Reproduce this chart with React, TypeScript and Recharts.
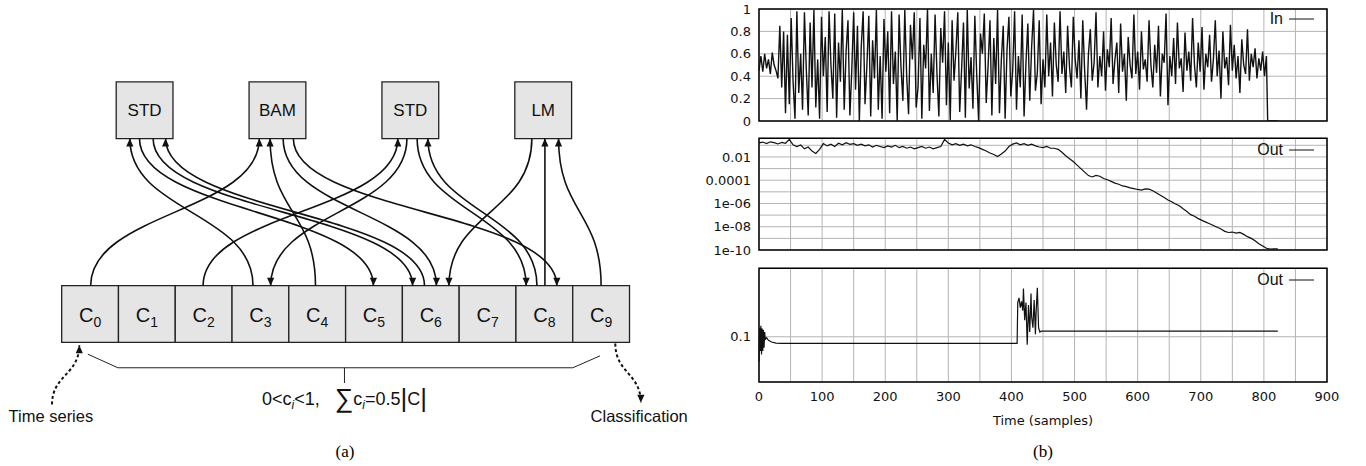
import React from 'react';
import {
  ComposedChart, LineChart, Line, XAxis, YAxis, CartesianGrid,
  ReferenceArea, ReferenceDot, Legend,
} from 'recharts';

// ---------- (a) cell diagram, in cell units ----------
const CELL_SUBS = ['0', '1', '2', '3', '4', '5', '6', '7', '8', '9'];
const BOX_NAMES = ['STD', 'BAM', 'STD', 'LM'];
const BOX_CENTERS = [1.46, 3.8, 6.14, 8.48];
const BOX_Y = [3.6, 4.6];
const CELL_Y = [0, 1];

// each arrow: start x, end x, whether it points up (cell -> box)
const ARROW_FROM = [0.51, 3.37, 4.47, 2.49, 6.08, 1.37, 1.61, 6.39, 3.9, 8.28, 6.26, 8.37, 8.51, 4.08, 9.5];
const ARROW_TO = [3.48, 1.2, 3.67, 5.92, 3.68, 5.49, 6.18, 1.83, 6.6, 6.82, 8.18, 6.45, 8.51, 8.72, 8.75];
const ARROW_UP = [true, true, true, true, false, false, false, true, false, false, false, true, true, false, true];

const INPUT_X = [-0.17, 0.31];
const INPUT_Y = [-1.1, -0.05];
const OUTPUT_X = [9.75, 10.2];
const OUTPUT_Y = [-0.02, -1.07];
const BRACE_X = [0.46, 0.99, 9.0, 9.48];
const BRACE_Y = [-0.21, -0.45, -0.45, -0.24];
const STEM_X = [4.98, 4.98];
const STEM_Y = [-0.45, -0.72];

const NOTE_TEXT = ['Time series', 'Classification'];
const NOTE_X = [-0.19, 10.17];
const NOTE_Y = [-1.3, -1.3];
const FORMULA_POS = [4.98, -1.0];

// ---------- (b) time series ----------
const X_TICKS = [0, 50, 100, 150, 200, 250, 300, 350, 400, 450, 500, 550, 600, 650, 700, 750, 800, 850, 900];
const IN_STEP = 3;
const IN_VALUES = [
  0.45, 0.58, 0.44, 0.6, 0.47, 0.55, 0.42, 0.61, 0.5, 0.45, 0.38,
  0.85, 0.3, 0.8, 0.07,
  0.77, 0.15, 0.92, 0.35, 0.02, 0.98,
  0.25, 0.6, 0.1, 0.97, 0.45, 0.05, 0.88, 0.3, 0.99, 0.12,
  0.55, 0.02, 0.93, 0.4, 0.75, 0.08, 0.98, 0.5, 0.2, 0.96,
  0.03, 0.7, 0.35, 1.0, 0.1, 0.62, 0.9, 0.05, 0.45, 0.97,
  0.28, 0.85, 0.0, 0.66, 0.98, 0.15, 0.5, 0.94, 0.04, 0.72,
  0.38, 0.99, 0.1, 0.58, 0.02, 0.91, 0.44, 0.8, 0.07, 0.98,
  0.33, 0.62, 0.0, 0.95, 0.48, 0.18, 0.99, 0.4, 0.06, 0.86,
  0.55, 0.97, 0.12, 0.3, 0.92, 0.02, 0.68, 0.47, 1.0, 0.09,
  0.6, 0.25, 0.95, 0.42, 0.04, 0.83, 0.52, 0.98, 0.14, 0.7,
  0.01, 0.9, 0.36, 0.63, 0.97, 0.08, 0.46, 0.88, 0.03, 0.99,
  0.29, 0.57, 0.11, 0.94, 0.41, 0.0, 0.78, 0.6, 0.96, 0.16,
  0.49, 0.9, 0.05, 0.74, 0.33, 0.99, 0.07, 0.55, 0.85, 0.02,
  0.64, 0.93, 0.22, 0.45, 0.98, 0.1, 0.58, 0.3, 0.95, 0.04,
  0.52, 0.87, 0.18, 0.66, 0.99, 0.27, 0.43, 0.9, 0.15,
  0.55, 0.3, 0.95, 0.4, 0.7, 0.22, 0.88, 0.5, 0.35, 0.98,
  0.42, 0.62, 0.25, 0.85, 0.48, 0.3, 0.93, 0.55, 0.38, 0.72,
  0.2, 0.9, 0.45, 0.1, 0.6, 0.82, 0.36, 0.52, 0.97, 0.3,
  0.58, 0.4, 0.8, 0.27, 0.64, 0.48, 0.92, 0.33, 0.55, 0.7,
  0.25, 0.87, 0.44, 0.6, 0.18, 0.75, 0.5, 0.38, 0.95, 0.42,
  0.62, 0.28, 0.8, 0.46, 0.55, 0.35, 0.9, 0.5, 0.3, 0.68,
  0.43, 0.85, 0.22, 0.6, 0.52, 0.96, 0.14, 0.58, 0.4, 0.74,
  0.33, 0.88, 0.47, 0.56, 0.26, 0.79, 0.45, 0.62, 0.36, 0.92,
  0.5, 0.3, 0.7, 0.44, 0.84, 0.28, 0.6, 0.48, 0.77, 0.35,
  0.55, 0.9, 0.4, 0.63, 0.2, 0.8, 0.47, 0.57, 0.32, 0.86,
  0.45, 0.68, 0.38, 0.58, 0.25, 0.73, 0.5, 0.42, 0.82, 0.36,
  0.6, 0.48, 0.65, 0.38, 0.56, 0.45, 0.62, 0.4, 0.58,
];
const IN_TAIL_T = [806, 822];
const IN_TAIL_V = [0, 0];

const LOG_STEP = 6;
const LOG_VALUES = [
  1.6e-1, 1.9e-1, 1.4e-1, 2.0e-1, 1.7e-1, 1.3e-1, 1.8e-1, 1.5e-1,
  3.2e-1,
  1.1e-1, 7.9e-2, 1.05e-1, 5.0e-2, 7.1e-2, 3.2e-2, 2.0e-2, 4.5e-2,
  1.4e-1, 8.9e-2, 1.26e-1, 7.9e-2, 1.5e-1, 1.1e-1, 1.66e-1, 1.2e-1,
  1.4e-1, 1.0e-1, 1.26e-1, 8.9e-2, 1.1e-1, 7.1e-2, 1.0e-1, 7.9e-2,
  6.3e-2, 8.9e-2, 7.1e-2, 1.0e-1, 6.3e-2, 7.9e-2, 5.6e-2, 7.1e-2,
  5.0e-2, 6.3e-2, 7.9e-2, 5.6e-2, 7.1e-2, 5.0e-2, 6.3e-2, 7.9e-2,
  3.2e-1,
  1.6e-1, 1.1e-1, 1.4e-1, 1.0e-1, 1.26e-1, 8.9e-2, 1.1e-1, 7.9e-2,
  6.3e-2, 4.5e-2, 3.2e-2, 2.2e-2, 1.6e-2, 1.1e-2, 1.8e-2, 3.2e-2,
  7.9e-2, 1.26e-1, 1.6e-1, 1.1e-1, 1.4e-1, 1.0e-1, 1.26e-1, 8.9e-2,
  7.1e-2, 6.3e-2, 7.9e-2, 5.6e-2,
  5.6e-2, 4.5e-2, 2.5e-2, 1.26e-2, 7.1e-3, 4.0e-3, 2.0e-3, 1.0e-3, 5.0e-4, 2.5e-4,
  1.9e-4, 2.6e-4, 2.2e-4, 1.4e-4, 1.1e-4, 7.9e-5, 5.6e-5, 4.5e-5, 3.2e-5, 2.8e-5,
  2.2e-5, 1.9e-5, 1.6e-5, 1.4e-5, 1.8e-5, 1.7e-5, 1.26e-5, 7.9e-6, 5.0e-6, 3.2e-6,
  2.0e-6, 1.4e-6, 8.9e-7, 6.3e-7, 3.5e-7, 2.0e-7, 1.1e-7, 7.9e-8, 5.0e-8, 3.5e-8,
  2.5e-8, 1.8e-8, 1.26e-8, 8.9e-9, 6.3e-9, 4.0e-9, 3.2e-9, 3.5e-9, 2.8e-9, 3.2e-9,
  2.2e-9, 1.4e-9, 1.0e-9, 6.3e-10, 3.5e-10, 2.2e-10, 1.4e-10, 1.2e-10, 1.26e-10, 1.26e-10,
];
const LOG_TICKS = [1e-10, 1e-9, 1e-8, 1e-7, 1e-6, 1e-5, 1e-4, 1e-3, 1e-2, 1e-1];
const LOG_TICK_LABELS = ['1e-10', '', '1e-08', '', '1e-06', '', '0.0001', '', '0.01', ''];

const OUT_T = [0, 1, 2, 3, 4, 5, 6, 7, 8, 9, 10, 12, 15, 20, 27, 35, 50, 409, 410, 412, 414, 416, 418, 419, 421, 423, 425, 427, 429, 431, 432, 434, 436, 438, 439, 441, 443, 445, 447, 452, 822];
const OUT_V = [0.06, 0.12, 0.075, 0.125, 0.07, 0.118, 0.075, 0.115, 0.08, 0.11, 0.095, 0.098, 0.093, 0.09, 0.088, 0.0875, 0.0873, 0.0873, 0.2, 0.22, 0.18, 0.205, 0.17, 0.265, 0.14, 0.2, 0.085, 0.19, 0.11, 0.24, 0.15, 0.12, 0.21, 0.105, 0.16, 0.27, 0.12, 0.11, 0.112, 0.112, 0.112];

const inData = [
  ...IN_VALUES.map((v, i) => ({ t: i * IN_STEP, v })),
  ...IN_TAIL_T.map((t, i) => ({ t, v: IN_TAIL_V[i] })),
];
const logData = LOG_VALUES.map((v, i) => ({ t: i * LOG_STEP, v }));
const outData = OUT_T.map((t, i) => ({ t, v: OUT_V[i] }));

const SANS = '"Liberation Sans", Arial, sans-serif';
const PLOT_FONT = '"DejaVu Sans", sans-serif';
const INK = '#111';

function ArrowHead(props: any) {
  const { cx, cy, payload } = props;
  if (!payload || !payload.head || cx == null) return null;
  const s = payload.head === 'up' ? 1 : -1;
  return <polygon points={`${cx},${cy} ${cx - 3.6},${cy + s * 8} ${cx + 3.6},${cy + s * 8}`} fill={INK} />;
}

const cellLabel = (i: number) => (props: any) => {
  const { x, y, width, height } = props.viewBox;
  return (
    <text x={x + width / 2} y={y + height / 2 + 8} textAnchor="middle" fontFamily={SANS} fontSize={20} fill={INK}>
      C<tspan dy={5} fontSize={14}>{CELL_SUBS[i]}</tspan>
    </text>
  );
};

const boxLabel = (name: string) => (props: any) => {
  const { x, y, width, height } = props.viewBox;
  return (
    <text x={x + width / 2} y={y + height / 2 + 6} textAnchor="middle" fontFamily={SANS} fontSize={17} fill={INK}>
      {name}
    </text>
  );
};

const noteLabel = (txt: string) => (props: any) => {
  const { x, y, width, height } = props.viewBox;
  return (
    <text x={x + width / 2} y={y + height / 2 + 6} textAnchor="middle" fontFamily={SANS} fontSize={16.5} fill={INK}>
      {txt}
    </text>
  );
};

const formulaLabel = (props: any) => {
  const { x, y, width, height } = props.viewBox;
  return (
    <text x={x + width / 2} y={y + height / 2 + 6} textAnchor="middle" fontFamily={SANS} fontSize={18} fill={INK}
      style={{ whiteSpace: 'pre' }}>
      0&lt;c<tspan dy={4} fontSize={12} fontStyle="italic">i</tspan>
      <tspan dy={-4}>{'<1,   '}</tspan>
      <tspan fontSize={26} dy={2}>∑</tspan>
      <tspan dy={-2}>c</tspan>
      <tspan dy={4} fontSize={12} fontStyle="italic">i</tspan>
      <tspan dy={-4}>=0.5</tspan>
      <tspan fontSize={26} dy={2}>|</tspan>
      <tspan dy={-2}>C</tspan>
      <tspan fontSize={26} dy={2}>|</tspan>
    </text>
  );
};

function Diagram() {
  return (
    <ComposedChart width={700} height={466} margin={{ top: 59.3, right: 13.7, bottom: 10.5, left: 4.9 }}>
      <XAxis type="number" dataKey="x" domain={[-1, 11]} hide allowDataOverflow />
      <YAxis type="number" dataKey="y" domain={[-2, 5]} hide allowDataOverflow />
      {CELL_SUBS.map((s, i) => (
        <ReferenceArea key={'c' + s} x1={i} x2={i + 1} y1={CELL_Y[0]} y2={CELL_Y[1]}
          fill="#e5e5e5" fillOpacity={1} stroke="#222" strokeWidth={1.3} label={cellLabel(i)} />
      ))}
      {BOX_NAMES.map((n, i) => (
        <ReferenceArea key={'b' + i} x1={BOX_CENTERS[i] - 0.5} x2={BOX_CENTERS[i] + 0.5} y1={BOX_Y[0]} y2={BOX_Y[1]}
          fill="#e5e5e5" fillOpacity={1} stroke="#222" strokeWidth={1.3} label={boxLabel(n)} />
      ))}
      {ARROW_FROM.map((fx, i) => {
        const up = ARROW_UP[i];
        const pts = up
          ? [{ x: fx, y: CELL_Y[1] }, { x: ARROW_TO[i], y: BOX_Y[0], head: 'up' }]
          : [{ x: fx, y: BOX_Y[0] }, { x: ARROW_TO[i], y: CELL_Y[1], head: 'down' }];
        return (
          <Line key={'a' + i} data={pts} dataKey="y" type="bumpY" stroke={INK} strokeWidth={1.6}
            dot={<ArrowHead />} activeDot={false} isAnimationActive={false} />
        );
      })}
      <Line data={[{ x: INPUT_X[0], y: INPUT_Y[0] }, { x: INPUT_X[1], y: INPUT_Y[1], head: 'up' }]} dataKey="y"
        type="bumpY" stroke={INK} strokeWidth={2} strokeDasharray="3 2.5" dot={<ArrowHead />} activeDot={false} isAnimationActive={false} />
      <Line data={[{ x: OUTPUT_X[0], y: OUTPUT_Y[0] }, { x: OUTPUT_X[1], y: OUTPUT_Y[1], head: 'down' }]} dataKey="y"
        type="bumpY" stroke={INK} strokeWidth={2} strokeDasharray="3 2.5" dot={<ArrowHead />} activeDot={false} isAnimationActive={false} />
      <Line data={BRACE_X.map((x, i) => ({ x, y: BRACE_Y[i] }))} dataKey="y" type="linear" stroke="#222" strokeWidth={1}
        dot={false} activeDot={false} isAnimationActive={false} />
      <Line data={STEM_X.map((x, i) => ({ x, y: STEM_Y[i] }))} dataKey="y" type="linear" stroke="#222" strokeWidth={1}
        dot={false} activeDot={false} isAnimationActive={false} />
      {NOTE_TEXT.map((t, i) => (
        <ReferenceDot key={t} x={NOTE_X[i]} y={NOTE_Y[i]} r={1} fill="none" stroke="none" label={noteLabel(t)} />
      ))}
      <ReferenceDot x={FORMULA_POS[0]} y={FORMULA_POS[1]} r={1} fill="none" stroke="none" label={formulaLabel} />
    </ComposedChart>
  );
}

const legendContent = (name: string) => () => (
  <div style={{ display: 'flex', alignItems: 'center', fontFamily: SANS, fontSize: 16, lineHeight: '18px', color: INK }}>
    <span>{name}</span>
    <svg width={32} height={18}><line x1={6} x2={31} y1={9} y2={9} stroke={INK} strokeWidth={1} /></svg>
  </div>
);

const yTick = { fill: INK, fontSize: 13, fontFamily: PLOT_FONT };

function SeriesPanel(props: {
  data: any[]; domain: [number, number]; ticks: number[]; fmt: (v: number) => string;
  log?: boolean; height: number; marginTop: number; marginBottom: number; name: string;
  legendTop: number; showX?: boolean; lineWidth?: number;
}) {
  const { data, domain, ticks, fmt, log, height, marginTop, marginBottom, name, legendTop, showX, lineWidth } = props;
  return (
    <LineChart width={660} height={height} data={data} margin={{ top: marginTop, right: 33, bottom: marginBottom, left: 0 }}>
      <CartesianGrid stroke="#b4b4b4" strokeWidth={1} />
      {showX ? (
        <XAxis type="number" dataKey="t" domain={[0, 900]} ticks={X_TICKS} interval={0} axisLine={false} tickLine={false}
          tickMargin={4} height={40} tick={yTick}
          tickFormatter={(v: number) => (v % 100 === 0 ? String(v) : '')}
          label={{ value: 'Time (samples)', position: 'insideBottom', offset: -3, fill: INK, fontSize: 13, fontFamily: PLOT_FONT }} />
      ) : (
        <XAxis type="number" dataKey="t" domain={[0, 900]} ticks={X_TICKS} interval={0} hide />
      )}
      <YAxis width={59} type="number" scale={log ? 'log' : 'auto'} domain={domain} allowDataOverflow ticks={ticks} interval={0}
        axisLine={false} tickLine={false} tick={yTick} tickFormatter={fmt} />
      <Line dataKey="v" type="linear" stroke={INK} strokeWidth={lineWidth ?? 1.2} dot={false} activeDot={false} isAnimationActive={false} />
      <ReferenceArea x1={0} x2={900} y1={domain[0]} y2={domain[1]} fill="none" stroke="#000" strokeWidth={1.5} />
      <Legend layout="horizontal" verticalAlign="middle" align="center" content={legendContent(name)}
        wrapperStyle={{ top: legendTop, right: 45, left: 'auto', width: 'auto', bottom: 'auto' }} />
    </LineChart>
  );
}

const caption: React.CSSProperties = {
  position: 'absolute', width: 100, textAlign: 'center', fontFamily: '"Liberation Serif", serif', fontSize: 17, lineHeight: '20px',
};

export default function App() {
  return (
    <div style={{ position: 'absolute', left: 0, top: 0, width: 1366, height: 466, background: '#fff', overflow: 'hidden' }}>
      <div style={{ position: 'absolute', left: 0, top: 0 }}>
        <Diagram />
      </div>
      <div style={{ position: 'absolute', left: 700, top: 0 }}>
        <SeriesPanel data={inData} domain={[0, 1]} ticks={[0, 0.2, 0.4, 0.6, 0.8, 1]} fmt={(v) => String(v)}
          height={130} marginTop={9} marginBottom={9} name="In" legendTop={10} lineWidth={1.4} />
      </div>
      <div style={{ position: 'absolute', left: 700, top: 130 }}>
        <SeriesPanel data={logData} domain={[1e-10, 0.4]} ticks={LOG_TICKS} log
          fmt={(v) => LOG_TICK_LABELS[LOG_TICKS.indexOf(v)] ?? ''}
          height={130} marginTop={8.3} marginBottom={10} name="Out" legendTop={11} />
      </div>
      <div style={{ position: 'absolute', left: 700, top: 260 }}>
        <SeriesPanel data={outData} domain={[0.04, 0.4]} ticks={[0.1]} log fmt={(v) => String(v)}
          height={180} marginTop={8.3} marginBottom={18} name="Out" legendTop={11} showX />
      </div>
      <div style={{ ...caption, left: 295, top: 442 }}>(a)</div>
      <div style={{ ...caption, left: 993, top: 442 }}>(b)</div>
    </div>
  );
}
